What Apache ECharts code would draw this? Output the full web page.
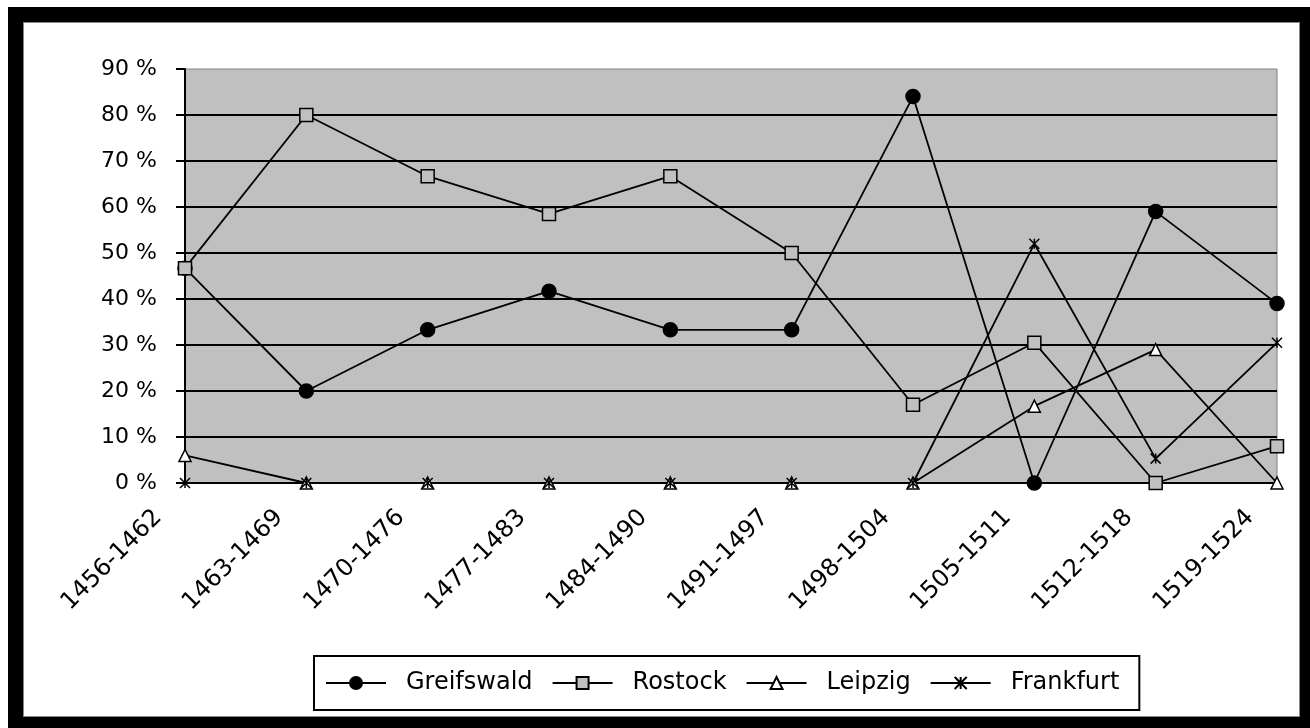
<!DOCTYPE html>
<html>
<head>
<meta charset="utf-8">
<script src="https://cdn.jsdelivr.net/npm/echarts@6/dist/echarts.min.js"></script>
<style>
  html, body { margin: 0; padding: 0; background: #fff; }
  #frame { position: absolute; left: 8px; top: 7px; width: 1302px; height: 721px; background: #000; }
  #inner { position: absolute; left: 15px; top: 15px; width: 1275px; height: 693px; background: #fff; border: 1px solid #888; }
  #chart { position: absolute; left: 0; top: 0; width: 1310px; height: 728px; }
</style>
</head>
<body>
<div id="frame"><div id="inner"></div></div>
<div id="chart"></div>
<script>
// Periods (seven-year spans)
const categories = ['1456-1462', '1463-1469', '1470-1476', '1477-1483', '1484-1490',
                    '1491-1497', '1498-1504', '1505-1511', '1512-1518', '1519-1524'];

// Share per university, in percent
const greifswald = [46.7, 20, 33.3, 41.7, 33.3, 33.3, 84, 0, 59, 39];
const rostock    = [46.7, 80, 66.7, 58.5, 66.7, 50, 17, 30.5, 0, 8];
const leipzig    = [6, 0, 0, 0, 0, 0, 0, 16.7, 29, 0];
const frankfurt  = [0, 0, 0, 0, 0, 0, 0, 52, 5.3, 30.5];

const seriesNames = ['Greifswald', 'Rostock', 'Leipzig', 'Frankfurt'];

const FONT = 'DejaVu Sans';
const starPath = 'path://M0,0L10,10M10,0L0,10M5,0L5,10';

function lineSeries(name, data, symbol, size, fill) {
  return {
    name: name,
    type: 'line',
    data: data,
    symbol: symbol,
    symbolSize: size,
    showAllSymbol: true,
    clip: false,
    lineStyle: { color: '#000', width: 1.8 },
    itemStyle: { color: fill, borderColor: '#000', borderWidth: 1.5 },
    emphasis: { disabled: true },
    animation: false
  };
}

const chart = echarts.init(document.getElementById('chart'));
chart.setOption({
  animation: false,
  grid: {
    left: 185, right: 33, top: 69, bottom: 245,
    show: true, backgroundColor: '#C0C0C0', borderColor: '#808080', borderWidth: 1
  },
  legend: {
    left: 314, top: 656,
    data: seriesNames,
    backgroundColor: '#fff',
    borderColor: '#000', borderWidth: 2,
    padding: [15, 20, 15, 11],
    itemWidth: 60, itemHeight: 15, itemGap: 19,
    textStyle: { fontFamily: FONT, fontSize: 24, color: '#000', padding: [0, 0, 0, 15] },
    selectedMode: false
  },
  xAxis: {
    type: 'category',
    data: categories,
    boundaryGap: false,
    axisLine: { lineStyle: { color: '#000', width: 2 } },
    axisTick: { show: false },
    axisLabel: {
      interval: 0, rotate: 45, margin: 4,
      fontFamily: FONT, fontSize: 24, color: '#000',
      padding: [0, 38, 0, 0]
    },
    splitLine: { show: false }
  },
  yAxis: {
    type: 'value',
    min: 0, max: 90, interval: 10,
    axisLine: { show: true, lineStyle: { color: '#000', width: 2 } },
    axisTick: { show: true, length: 9, lineStyle: { color: '#000', width: 2 } },
    axisLabel: {
      margin: 28, formatter: '{value} %',
      fontFamily: FONT, fontSize: 22, color: '#000'
    },
    splitLine: {
      show: true,
      lineStyle: {
        color: ['#000', '#000', '#000', '#000', '#000', '#000', '#000', '#000', '#000', 'rgba(0,0,0,0)'],
        width: 2
      }
    }
  },
  series: [
    lineSeries('Greifswald', greifswald, 'circle', 14, '#000'),
    lineSeries('Rostock', rostock, 'rect', 13, '#C0C0C0'),
    lineSeries('Leipzig', leipzig, 'triangle', 12, '#fff'),
    lineSeries('Frankfurt', frankfurt, starPath, 10, '#000')
  ]
});
</script>
</body>
</html>
